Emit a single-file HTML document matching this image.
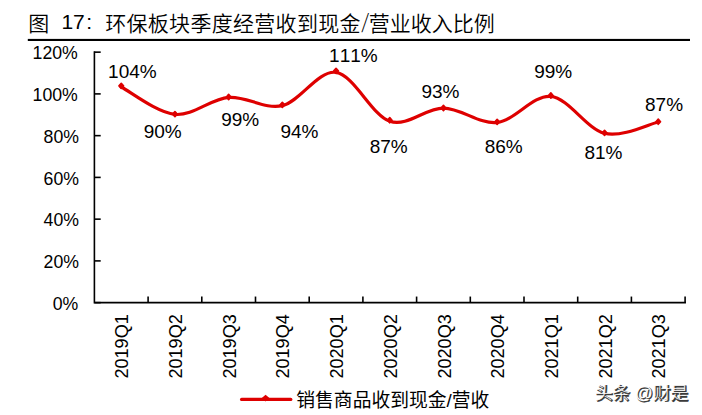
<!DOCTYPE html><html><head><meta charset="utf-8"><title>chart</title><style>html,body{margin:0;padding:0;background:#fff}svg{display:block}.nt{font-family:"Noto Sans CJK SC",sans-serif !important;font-weight:300}text{font-kerning:none;font-family:"Liberation Sans","Noto Sans CJK SC",sans-serif;fill:#000}</style></head><body>
<svg width="702" height="415" viewBox="0 0 702 415">
<rect width="702" height="415" fill="#fff"/>
<text font-size="21" style="font-weight:350"><tspan x="28.2" y="30.8">图</tspan><tspan x="105.2" y="30.8" style="letter-spacing:0.3px">环保板块季度经营收到现金</tspan><tspan x="368.8" y="30.8">营业收入比例</tspan></text>
<text font-size="21"><tspan x="61.4" y="29.2">17</tspan><tspan x="86.2" y="29.2">:</tspan></text><text class="nt" x="361.2" y="29.4" font-size="20">/</text>
<rect x="27.8" y="38.9" width="662.2" height="2.1" fill="#000"/>
<g stroke="#000" stroke-width="1.6" fill="none">
<path d="M94.40,51.30 V302.65 H685.95"/>
<path d="M94.40,52.15 h6.3"/>
<path d="M94.40,93.90 h6.3"/>
<path d="M94.40,135.65 h6.3"/>
<path d="M94.40,177.40 h6.3"/>
<path d="M94.40,219.15 h6.3"/>
<path d="M94.40,260.90 h6.3"/>
<path d="M94.40,302.65 h6.3"/>
<path d="M148.10,302.65 v-6.1"/>
<path d="M201.80,302.65 v-6.1"/>
<path d="M255.50,302.65 v-6.1"/>
<path d="M309.20,302.65 v-6.1"/>
<path d="M362.90,302.65 v-6.1"/>
<path d="M416.60,302.65 v-6.1"/>
<path d="M470.30,302.65 v-6.1"/>
<path d="M524.00,302.65 v-6.1"/>
<path d="M577.70,302.65 v-6.1"/>
<path d="M631.40,302.65 v-6.1"/>
<path d="M685.10,302.65 v-6.1"/>
</g>
<text x="77.8" y="59.4" font-size="17.7" text-anchor="end">120%</text>
<text x="77.8" y="101.2" font-size="17.7" text-anchor="end">100%</text>
<text x="79.0" y="142.9" font-size="17.7" text-anchor="end">80%</text>
<text x="79.0" y="184.7" font-size="17.7" text-anchor="end">60%</text>
<text x="79.0" y="226.4" font-size="17.7" text-anchor="end">40%</text>
<text x="79.0" y="268.2" font-size="17.7" text-anchor="end">20%</text>
<text x="78.3" y="309.9" font-size="17.7" text-anchor="end">0%</text>
<text transform="translate(128.2,314.2) rotate(-90)" font-size="18.1" text-anchor="end">2019Q1</text>
<text transform="translate(182.0,314.2) rotate(-90)" font-size="18.1" text-anchor="end">2019Q2</text>
<text transform="translate(235.7,314.2) rotate(-90)" font-size="18.1" text-anchor="end">2019Q3</text>
<text transform="translate(289.4,314.2) rotate(-90)" font-size="18.1" text-anchor="end">2019Q4</text>
<text transform="translate(343.1,314.2) rotate(-90)" font-size="18.1" text-anchor="end">2020Q1</text>
<text transform="translate(396.8,314.2) rotate(-90)" font-size="18.1" text-anchor="end">2020Q2</text>
<text transform="translate(450.5,314.2) rotate(-90)" font-size="18.1" text-anchor="end">2020Q3</text>
<text transform="translate(504.1,314.2) rotate(-90)" font-size="18.1" text-anchor="end">2020Q4</text>
<text transform="translate(557.9,314.2) rotate(-90)" font-size="18.1" text-anchor="end">2021Q1</text>
<text transform="translate(611.6,314.2) rotate(-90)" font-size="18.1" text-anchor="end">2021Q2</text>
<text transform="translate(665.2,314.2) rotate(-90)" font-size="18.1" text-anchor="end">2021Q3</text>
<path d="M121.25,87.00 C130.20,91.57 157.05,112.67 174.95,114.40 C192.85,116.13 210.75,98.87 228.65,97.40 C246.55,95.93 264.45,109.77 282.35,105.60 C300.25,101.43 318.15,69.78 336.05,72.40 C353.95,75.02 371.85,115.35 389.75,121.30 C407.65,127.25 425.55,107.90 443.45,108.10 C461.35,108.30 479.25,124.45 497.15,122.50 C515.05,120.55 532.95,94.60 550.85,96.40 C568.75,98.20 586.65,129.03 604.55,133.30 C622.45,137.57 649.30,123.88 658.25,122.00" fill="none" stroke="#de0000" stroke-width="3.15" stroke-linecap="round" stroke-linejoin="round" />
<path d="M121.25,83.30 l2.3,2.6 l-2.3,2.6 l-2.3,-2.6z" fill="#de0000" stroke="#de0000" stroke-width="1.6" stroke-linejoin="round"/>
<path d="M174.95,111.50 l2.3,2.6 l-2.3,2.6 l-2.3,-2.6z" fill="#de0000" stroke="#de0000" stroke-width="1.6" stroke-linejoin="round"/>
<path d="M228.65,94.40 l2.3,2.6 l-2.3,2.6 l-2.3,-2.6z" fill="#de0000" stroke="#de0000" stroke-width="1.6" stroke-linejoin="round"/>
<path d="M282.35,102.30 l2.3,2.6 l-2.3,2.6 l-2.3,-2.6z" fill="#de0000" stroke="#de0000" stroke-width="1.6" stroke-linejoin="round"/>
<path d="M336.05,68.30 l2.3,2.6 l-2.3,2.6 l-2.3,-2.6z" fill="#de0000" stroke="#de0000" stroke-width="1.6" stroke-linejoin="round"/>
<path d="M389.75,117.60 l2.3,2.6 l-2.3,2.6 l-2.3,-2.6z" fill="#de0000" stroke="#de0000" stroke-width="1.6" stroke-linejoin="round"/>
<path d="M443.45,105.40 l2.3,2.6 l-2.3,2.6 l-2.3,-2.6z" fill="#de0000" stroke="#de0000" stroke-width="1.6" stroke-linejoin="round"/>
<path d="M497.15,119.30 l2.3,2.6 l-2.3,2.6 l-2.3,-2.6z" fill="#de0000" stroke="#de0000" stroke-width="1.6" stroke-linejoin="round"/>
<path d="M550.85,92.90 l2.3,2.6 l-2.3,2.6 l-2.3,-2.6z" fill="#de0000" stroke="#de0000" stroke-width="1.6" stroke-linejoin="round"/>
<path d="M604.55,130.30 l2.3,2.6 l-2.3,2.6 l-2.3,-2.6z" fill="#de0000" stroke="#de0000" stroke-width="1.6" stroke-linejoin="round"/>
<path d="M658.25,119.10 l2.3,2.6 l-2.3,2.6 l-2.3,-2.6z" fill="#de0000" stroke="#de0000" stroke-width="1.6" stroke-linejoin="round"/>
<text x="108.1" y="78.0" font-size="19">104%</text>
<text x="143.7" y="138.0" font-size="19">90%</text>
<text x="221.2" y="126.0" font-size="19">99%</text>
<text x="280.4" y="138.0" font-size="19">94%</text>
<text x="329.1" y="61.9" font-size="19">111%</text>
<text x="369.7" y="153.0" font-size="19">87%</text>
<text x="421.4" y="97.7" font-size="19">93%</text>
<text x="484.7" y="153.0" font-size="19">86%</text>
<text x="534.2" y="78.0" font-size="19">99%</text>
<text x="584.4" y="159.0" font-size="19">81%</text>
<text x="645.0" y="111.0" font-size="19">87%</text>
<path d="M241.6,399.4 H290.8" stroke="#de0000" stroke-width="3.2" stroke-linecap="round"/>
<path d="M265.6,394.7 l3.8,3.4 l-3.8,3.4 l-3.8,-3.4z" fill="#de0000"/>
<text x="296.3" y="407.2" font-size="18.8">销售商品收到现金/营收</text>
<g font-size="17.6" style="font-weight:500"><text x="596.0" y="399.8" style="fill:#3a3a3a;stroke:#3a3a3a;stroke-width:0.55px;stroke-linejoin:round" xml:space="preserve">头条 @财是</text><text x="595.0" y="398.8" style="fill:#fff;font-weight:300" xml:space="preserve">头条 @财是</text></g>
</svg></body></html>
